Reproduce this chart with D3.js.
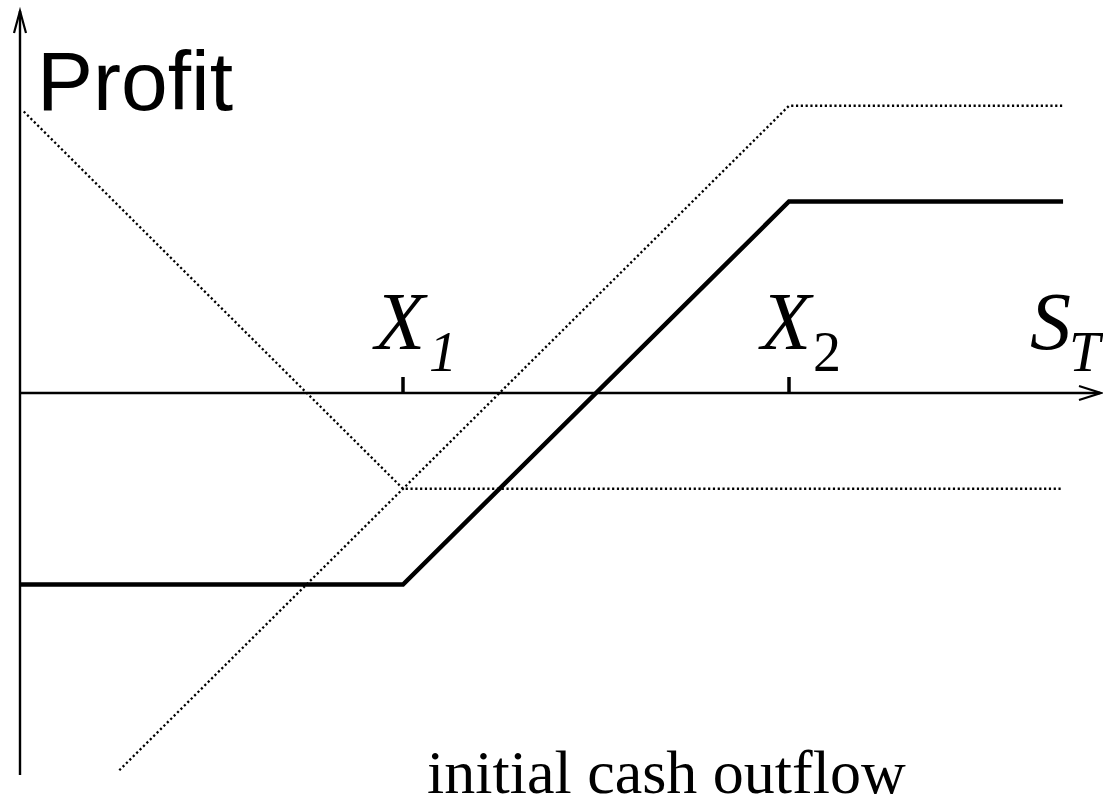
<!DOCTYPE html>
<html>
<head>
<meta charset="utf-8">
<script src="https://cdn.jsdelivr.net/npm/d3@7"></script>
<style>
  html, body { margin: 0; padding: 0; background: #fff; }
  svg { display: block; }
</style>
</head>
<body>
<div id="chart"></div>
<script>
// Payoff data (S_T, profit) for the bull spread with puts
const strikes = [20, 40];
const strikeLabels = ["1", "2"];
const longPut = [[0.35, 14.7], [20, -5], [54.2, -5]];
const shortPut = [[5.3, -19.7], [40, 15], [54.2, 15]];
const spread = [[0.15, -10], [20, -10], [40, 10], [54.2, 10]];

const width = 1103;
const height = 805;

const svg = d3.select("#chart")
    .append("svg")
    .attr("width", width)
    .attr("height", height);

// Scales: strike X1 -> 403px, X2 -> 789px
const x = d3.scaleLinear()
    .domain([0, 56])
    .range([17, 17 + 56 * 19.3]);

const y = d3.scaleLinear()
    .domain([-20, 20])
    .range([393 + 20 * 19.15, 393 - 20 * 19.15]);

const x0 = 20;       // y axis position
const y0 = y(0);     // x axis position

// Axes
svg.append("line")
    .attr("x1", x0).attr("x2", x0)
    .attr("y1", 11).attr("y2", 775)
    .attr("stroke", "black")
    .attr("stroke-width", 2.4);

svg.append("line")
    .attr("x1", x0).attr("x2", 1100)
    .attr("y1", y0).attr("y2", y0)
    .attr("stroke", "black")
    .attr("stroke-width", 2.4);

// Arrow heads
svg.append("path")
    .attr("d", `M${x0 - 6},${33} L${x0},${11} L${x0 + 6},${33}`)
    .attr("fill", "none")
    .attr("stroke", "black")
    .attr("stroke-width", 2.2);

svg.append("path")
    .attr("d", `M${1079},${y0 - 7} L${1101},${y0} L${1079},${y0 + 7}`)
    .attr("fill", "none")
    .attr("stroke", "black")
    .attr("stroke-width", 2.2);

// Strike ticks
svg.selectAll(".tick")
    .data(strikes)
    .enter().append("line")
    .attr("class", "tick")
    .attr("x1", d => x(d)).attr("x2", d => x(d))
    .attr("y1", y0 - 16).attr("y2", y0)
    .attr("stroke", "black")
    .attr("stroke-width", 3.5);

// Strike labels X1, X2
strikes.forEach((s, i) => {
    const t = svg.append("text")
        .attr("x", x(s) - 28)
        .attr("y", 349)
        .style("font-family", "'Liberation Serif', 'Times New Roman', serif")
        .style("font-size", "82px")
        .style("fill", "black");
    t.append("tspan").style("font-style", "italic").text("X");
    t.append("tspan")
        .attr("dx", i === 0 ? 4 : 2)
        .attr("y", 371)
        .style("font-size", "56px")
        .style("font-style", i === 0 ? "italic" : "normal")
        .text(strikeLabels[i]);
});

// S_T label
const st = svg.append("text")
    .attr("x", 1030)
    .attr("y", 349)
    .style("font-family", "'Liberation Serif', 'Times New Roman', serif")
    .style("font-size", "82px")
    .style("font-style", "italic")
    .style("fill", "black");
st.append("tspan").text("S");
st.append("tspan")
    .attr("dx", -2)
    .attr("y", 371)
    .style("font-size", "56px")
    .text("T");

// Profit label
svg.append("text")
    .attr("x", 37)
    .attr("y", 110)
    .style("font-family", "'Liberation Sans', Arial, sans-serif")
    .style("font-size", "84px")
    .style("fill", "black")
    .text("Profit");

// Bottom caption
svg.append("text")
    .attr("x", 427)
    .attr("y", 793)
    .style("font-family", "'Liberation Serif', 'Times New Roman', serif")
    .style("font-size", "62px")
    .style("fill", "black")
    .text("initial cash outflow");

// Payoff lines
const line = d3.line()
    .x(d => x(d[0]))
    .y(d => y(d[1]));

[longPut, shortPut].forEach(d => {
    svg.append("path")
        .datum(d)
        .attr("fill", "none")
        .attr("stroke", "black")
        .attr("stroke-width", 2.3)
        .attr("stroke-dasharray", "2.2,2.6")
        .attr("d", line);
});

svg.append("path")
    .datum(spread)
    .attr("fill", "none")
    .attr("stroke", "black")
    .attr("stroke-width", 4.5)
    .attr("stroke-linejoin", "miter")
    .attr("d", line);
</script>
</body>
</html>
